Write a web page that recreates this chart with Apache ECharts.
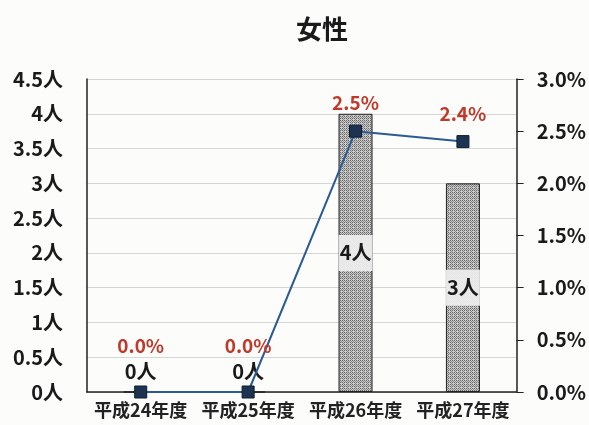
<!DOCTYPE html>
<html>
<head>
<meta charset="utf-8">
<script src="https://cdn.jsdelivr.net/npm/echarts@6/dist/echarts.min.js"></script>
<style>
  html, body { margin: 0; padding: 0; background: #fcfcfa; }
  #chart { width: 589px; height: 425px; }
</style>
</head>
<body>
<div id="chart"></div>
<script>
// Fiscal years (Heisei era)
const categories = ['平成24年度', '平成25年度', '平成26年度', '平成27年度'];
// Number of women (persons)
const persons = [0, 0, 4, 3];
// Ratio (percent)
const ratio = [0.0, 0.0, 2.5, 2.4];
// Axis ranges
const leftMax = 4.5, leftStep = 0.5;
const rightMax = 3.0, rightStep = 0.5;

const FONT = '"Noto Sans CJK JP", "Noto Sans", sans-serif';

// Halftone-style fill for the bars
function makeDotPattern() {
  const c = document.createElement('canvas');
  c.width = 4; c.height = 4;
  const g = c.getContext('2d');
  g.fillStyle = '#cacaca';
  g.fillRect(0, 0, 4, 4);
  g.fillStyle = '#666666';
  g.fillRect(0, 0, 1, 1);
  g.fillRect(2, 2, 1, 1);
  g.fillRect(2, 0, 1, 1);
  g.fillRect(0, 2, 1, 1);
  g.fillStyle = '#8c8c8c';
  g.fillRect(1, 1, 1, 1);
  g.fillRect(3, 3, 1, 1);
  g.fillRect(3, 1, 1, 1);
  return c;
}

const chart = echarts.init(document.getElementById('chart'), null, { renderer: 'canvas' });

const barData = persons.map(v => ({
  value: v,
  label: v === 0
    ? { position: 'top', distance: 10, backgroundColor: 'transparent', padding: 0 }
    : {}
}));

const lineData = ratio.map(v => ({
  value: v,
  label: { distance: v === 0 ? 30 : 12 }
}));

chart.setOption({
  backgroundColor: '#fcfcfa',
  animation: false,
  title: {
    text: '女性',
    left: 317,
    top: 11,
    textAlign: 'center',
    textStyle: { fontFamily: FONT, fontSize: 26, fontWeight: 'bold', color: '#1a1a1a' }
  },
  grid: { left: 87, right: 72, top: 79, bottom: 33 },
  xAxis: {
    type: 'category',
    data: categories,
    axisLine: { lineStyle: { color: '#222', width: 1.5 } },
    axisTick: { show: false },
    axisLabel: {
      fontFamily: FONT, fontSize: 18, fontWeight: 'bold', color: '#222',
      margin: 9, interval: 0
    }
  },
  yAxis: [
    {
      type: 'value',
      min: 0, max: leftMax, interval: leftStep,
      axisLine: { show: true, lineStyle: { color: '#222', width: 1.5 } },
      axisTick: { show: false },
      splitLine: { lineStyle: { color: '#d6d6d6', width: 1 } },
      axisLabel: {
        fontFamily: FONT, fontSize: 20, fontWeight: 'bold', color: '#1a1a1a',
        margin: 24,
        formatter: v => v + '人'
      }
    },
    {
      type: 'value',
      min: 0, max: rightMax, interval: rightStep,
      position: 'right',
      axisLine: { show: true, lineStyle: { color: '#222', width: 1.5 } },
      axisTick: { show: true, inside: false, length: 7, lineStyle: { color: '#222' } },
      splitLine: { show: false },
      axisLabel: {
        fontFamily: FONT, fontSize: 20, fontWeight: 'bold', color: '#1a1a1a',
        margin: 20,
        formatter: v => v.toFixed(1) + '%'
      }
    }
  ],
  series: [
    {
      type: 'bar',
      yAxisIndex: 0,
      data: barData,
      barWidth: 34,
      itemStyle: {
        color: { image: makeDotPattern(), repeat: 'repeat' },
        borderColor: '#222',
        borderWidth: 1
      },
      label: {
        show: true,
        position: 'inside',
        formatter: p => p.value + '人',
        fontFamily: FONT, fontSize: 20, fontWeight: 'bold', color: '#1a1a1a',
        backgroundColor: 'rgba(236,236,236,0.95)',
        width: 34, align: 'center',
        padding: [8, 0, 8, 0]
      },
      z: 2
    },
    {
      type: 'line',
      yAxisIndex: 1,
      data: lineData,
      symbol: 'rect',
      symbolSize: 12,
      lineStyle: { color: '#2c5a94', width: 2 },
      itemStyle: { color: '#1c3452', borderColor: '#0e1c2e', borderWidth: 1 },
      label: {
        show: true,
        position: 'top',
        formatter: p => p.value.toFixed(1) + '%',
        fontFamily: FONT, fontSize: 19, fontWeight: 'bold', color: '#c0392b'
      },
      z: 3
    }
  ]
});
</script>
</body>
</html>
